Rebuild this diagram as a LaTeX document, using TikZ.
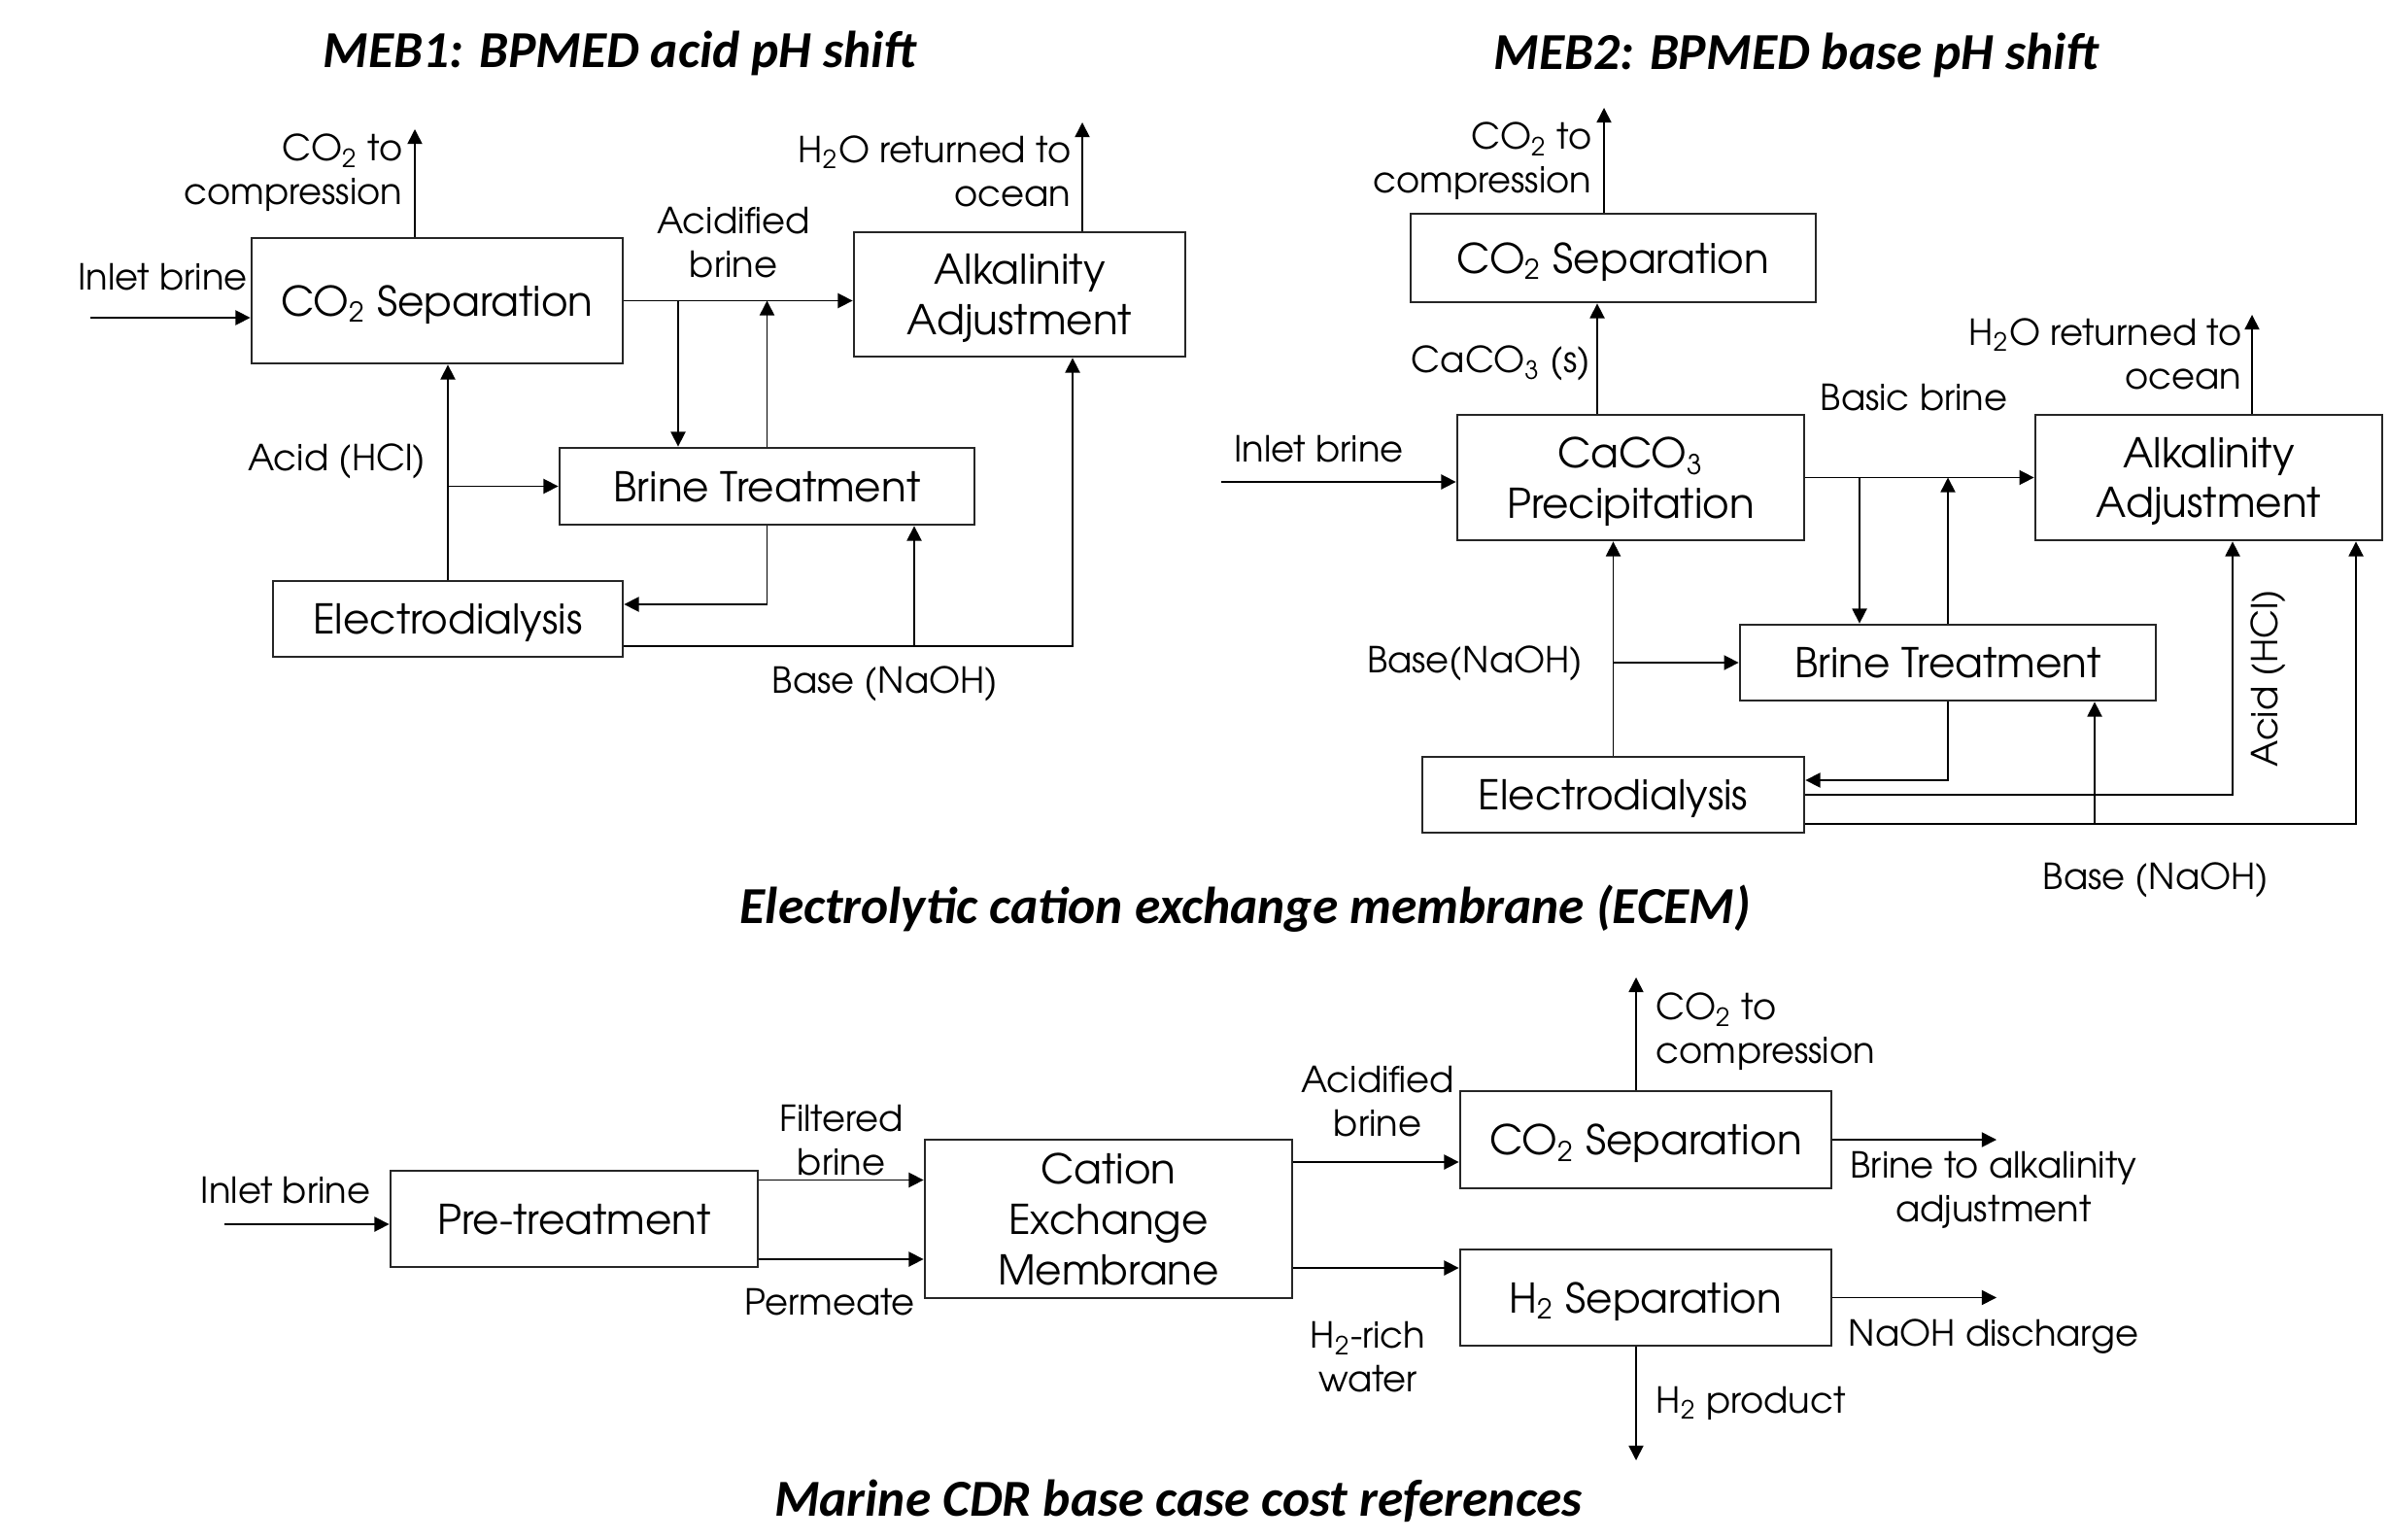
\documentclass[tikz,border=0pt]{standalone}
\usepackage{fontspec}
\setmainfont{texgyreadventor}[Extension=.otf, UprightFont=*-regular, BoldFont=*-bold, ItalicFont=*-italic, BoldItalicFont=*-bolditalic]
\newfontfamily\titlefont{Carlito}
\usetikzlibrary{arrows.meta}
\newcommand{\cotwo}{CO\textsubscript{2}}

\begin{document}
\begin{tikzpicture}[>={Triangle[length=4.3pt,width=4.3pt]}, line width=0.45pt,
  box/.style={draw=black!85, line width=0.8pt, align=center, inner sep=0pt, text depth=0pt, font=\fontsize{12}{14.7}\selectfont},
  lbl/.style={inner sep=0pt, align=center, font=\fontsize{10.5}{12.8}\selectfont},
  plbl/.style={lbl, text depth=0pt},
  ttl/.style={inner sep=0pt, font=\titlefont\bfseries\itshape\fontsize{15.2}{17}\selectfont}]
\useasboundingbox (0,0) rectangle (24.59,-15.85);

% MEB1
\node[ttl] (tA) at (6.38,-0.55) {MEB1: BPMED acid pH shift};
\node[box, minimum width=3.82cm, minimum height=1.29cm] (sepA) at (4.50,-3.095) {\cotwo{} Separation};
\node[box, minimum width=3.41cm, minimum height=1.28cm] (alkA) at (10.495,-3.03) {Alkalinity\\Adjustment};
\node[box, minimum width=4.27cm, minimum height=0.79cm] (btA) at (7.895,-5.005) {Brine Treatment};
\node[box, minimum width=3.60cm, minimum height=0.78cm] (edA) at (4.61,-6.37) {Electrodialysis};

\coordinate (inA) at (0.93,-3.27);
\draw[->] (inA) -- (inA -| sepA.west);
\coordinate (co2A) at (4.27,-1.33);
\draw[->] (co2A |- sepA.north) -- (co2A);
\draw[->] (sepA.east) -- (sepA.east -| alkA.west);
\coordinate (dnA) at (6.98,-3.095);
\draw[->] (dnA) -- (dnA |- btA.north);
\draw[->] (btA.north) -- (btA.north |- sepA.east);
\draw[->] (edA.north) -- (edA.north |- sepA.south);
\draw[->] (edA.north |- btA.west) -- (btA.west);
\draw[->] (btA.south) |- ([yshift=1.5mm]edA.east);
\draw[->] ([yshift=-2.8mm]edA.east) -| ([xshift=5.45mm]alkA.south);
\coordinate (brA) at (9.41,-6.65);
\draw[->] (brA) -- (brA |- btA.south);
\coordinate (h2oA) at (11.14,-1.26);
\draw[->] (h2oA |- alkA.north) -- (h2oA);

\node[lbl] (lInA) at (1.675,-2.85) {Inlet brine};
\node[lbl, anchor=east, align=right] (lCoA) at (4.15,-1.78) {\cotwo{} to\\compression};
\node[lbl] (lAcA) at (7.55,-2.50) {Acidified\\brine};
\node[lbl, anchor=east, align=right] (lH2oA) at (11.03,-1.76) {H\textsubscript{2}O returned to\\ocean};
\node[plbl, anchor=east] (lHclA) at (4.39,-4.71) {Acid (HCl)};
\node[plbl] (lNaA) at (9.11,-7.00) {Base (NaOH)};

% MEB2
\node[ttl] (tB) at (18.49,-0.57) {MEB2: BPMED base pH shift};
\node[box, minimum width=4.17cm, minimum height=0.91cm] (sepB) at (16.605,-2.655) {\cotwo{} Separation};
\node[box, minimum width=3.57cm, minimum height=1.29cm] (precB) at (16.785,-4.915) {CaCO\textsubscript{3}\\Precipitation};
\node[box, minimum width=3.57cm, minimum height=1.29cm] (alkB) at (22.735,-4.915) {Alkalinity\\Adjustment};
\node[box, minimum width=4.28cm, minimum height=0.78cm] (btB) at (20.05,-6.82) {Brine Treatment};
\node[box, minimum width=3.93cm, minimum height=0.78cm] (edB) at (16.605,-8.18) {Electrodialysis};

\coordinate (co2B) at (16.51,-1.11);
\draw[->] (co2B |- sepB.north) -- (co2B);
\coordinate (caB) at (16.44,-4.27);
\draw[->] (caB |- precB.north) -- (caB |- sepB.south);
\coordinate (inB) at (12.57,-4.96);
\draw[->] (inB) -- (inB -| precB.west);
\draw[->] (precB.east) -- (alkB.west);
\coordinate (dnB) at (19.14,-4.915);
\draw[->] (dnB) -- (dnB |- btB.north);
\draw[->] (btB.north) -- (btB.north |- precB.east);
\draw[->] (edB.north) -- (edB.north |- precB.south);
\draw[->] (edB.north |- btB.west) -- (btB.west);
\draw[->] (btB.south) |- ([yshift=1.5mm]edB.east);
\draw[->] (edB.east) -| ([xshift=2.45mm]alkB.south);
\draw[->] ([yshift=-3mm]edB.east) -| ([xshift=15.15mm]alkB.south);
\coordinate (brB) at (21.56,-8.48);
\draw[->] (brB) -- (brB |- btB.south);
\coordinate (h2oB) at (23.18,-3.24);
\draw[->] (h2oB |- alkB.north) -- (h2oB);

\node[lbl, anchor=east, align=right] (lCoB) at (16.39,-1.66) {\cotwo{} to\\compression};
\node[plbl, anchor=east] (lCaB) at (16.38,-3.70) {CaCO\textsubscript{3} (s)};
\node[lbl] (lInB) at (13.575,-4.62) {Inlet brine};
\node[lbl] (lBbB) at (19.70,-4.09) {Basic brine};
\node[lbl, anchor=east, align=right] (lH2oB) at (23.08,-3.645) {H\textsubscript{2}O returned to\\ocean};
\node[plbl, anchor=east] (lNaB) at (16.30,-6.79) {Base(NaOH)};
\node[lbl, rotate=90] (lHclB) at (23.35,-6.98) {Acid (HCl)};
\node[plbl] (lNa2B) at (22.19,-9.02) {Base (NaOH)};

\node[ttl] (tE) at (12.82,-9.35) {Electrolytic cation exchange membrane (ECEM)};

% ECEM
\node[box, minimum width=3.78cm, minimum height=0.99cm] (preC) at (5.91,-12.545) {Pre-treatment};
\node[box, minimum width=3.78cm, minimum height=1.63cm] (cemC) at (11.41,-12.545) {Cation\\Exchange\\Membrane};
\node[box, minimum width=3.82cm, minimum height=1.00cm] (sepC) at (16.94,-11.73) {\cotwo{} Separation};
\node[box, minimum width=3.82cm, minimum height=0.99cm] (h2C) at (16.94,-13.355) {H\textsubscript{2} Separation};

\coordinate (inC) at (2.31,-12.60);
\draw[->] (inC) -- (inC -| preC.west);
\draw[->] ([yshift=4mm]preC.east) -- ([yshift=4mm]preC.east -| cemC.west);
\draw[->] ([yshift=-4.15mm]preC.east) -- ([yshift=-4.15mm]preC.east -| cemC.west);
\draw[->] ([yshift=5.85mm]cemC.east) -- ([yshift=5.85mm]cemC.east -| sepC.west);
\draw[->] ([yshift=-5.05mm]cemC.east) -- ([yshift=-5.05mm]cemC.east -| h2C.west);
\coordinate (co2C) at (16.84,-10.06);
\draw[->] (co2C |- sepC.north) -- (co2C);
\coordinate (h2pC) at (16.84,-15.03);
\draw[->] (h2pC |- h2C.south) -- (h2pC);
\coordinate (brC) at (20.55,-11.73);
\draw[->] (sepC.east) -- (brC);
\coordinate (naC) at (20.55,-13.355);
\draw[->] (h2C.east) -- (naC);

\node[lbl] (lInC) at (2.94,-12.25) {Inlet brine};
\node[lbl] (lFiC) at (8.66,-11.74) {Filtered\\brine};
\node[lbl] (lPeC) at (8.54,-13.40) {Permeate};
\node[lbl] (lAcC) at (14.18,-11.335) {Acidified\\brine};
\node[lbl, anchor=west, align=left] (lCoC) at (17.04,-10.62) {\cotwo{} to\\compression};
\node[lbl] (lBaC) at (20.52,-12.25) {Brine to alkalinity\\adjustment};
\node[lbl] (lH2C) at (14.08,-13.97) {H\textsubscript{2}-rich\\water};
\node[lbl] (lNaC) at (20.52,-13.76) {NaOH discharge};
\node[lbl, anchor=west] (lHpC) at (17.04,-14.44) {H\textsubscript{2} product};
\node[ttl] (tC) at (12.13,-15.45) {Marine CDR base case cost references};
\end{tikzpicture}
\end{document}
